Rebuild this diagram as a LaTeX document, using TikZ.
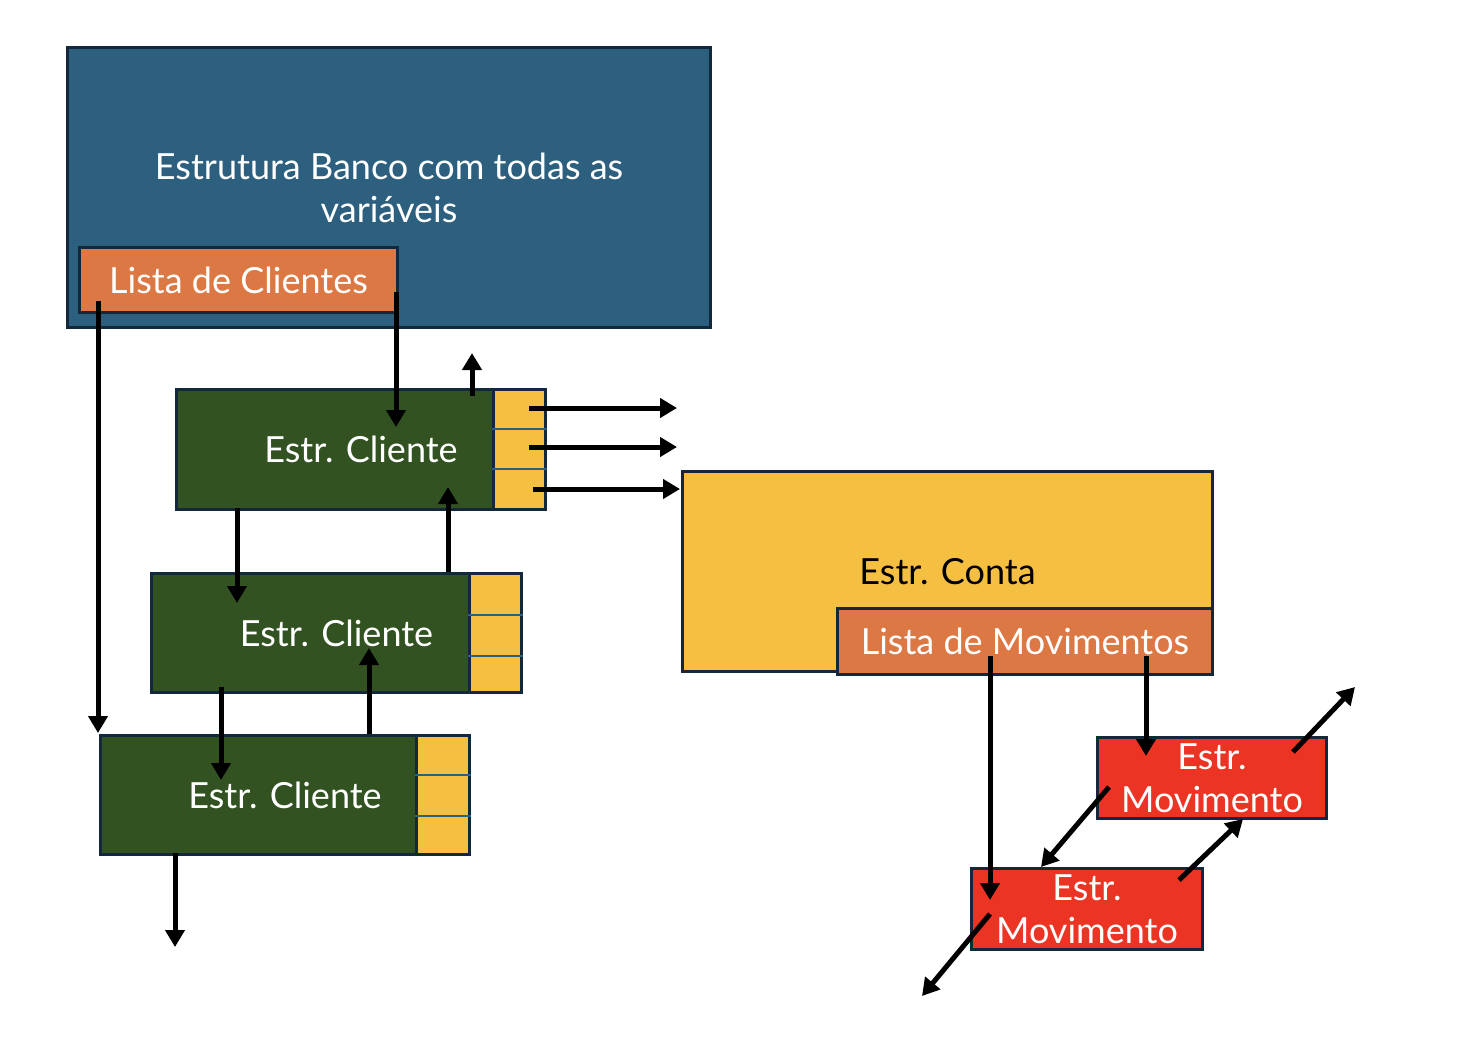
\documentclass[tikz,border=0pt]{standalone}
\usepackage{fontspec}
\setmainfont{Lato}
\usetikzlibrary{arrows.meta}
\definecolor{bankblue}{RGB}{45,95,127}
\definecolor{edge}{RGB}{19,40,58}
\definecolor{listorange}{RGB}{220,120,67}
\definecolor{cligreen}{RGB}{51,82,34}
\definecolor{slotyellow}{RGB}{245,192,66}
\definecolor{movred}{RGB}{236,52,36}
\begin{document}
\begin{tikzpicture}[x=1pt,y=-1pt,
  box/.style={draw=edge, line width=3pt, anchor=north west, inner sep=0pt,
    align=center, font=\fontsize{36}{43}\selectfont, text=white},
  slotcol/.style={box, fill=slotyellow, minimum width=52pt},
  divider/.style={draw=bankblue, line width=2.5pt},
  arr/.style={line width=5pt, -{Triangle[length=17pt,width=19pt]}}]
\useasboundingbox (0,0) rectangle (1464,1036);
% Banco
\node[box, fill=bankblue, minimum width=643pt, minimum height=280pt] (banco) at (66,46)
  {Estrutura Banco com todas as\\variáveis};
\node[box, fill=listorange, minimum width=318pt, minimum height=65pt] (lc) at (78,246) {Lista de Clientes};
% Clientes
\node[box, fill=cligreen, minimum width=369pt, minimum height=120pt] (c1) at (175,388) {Estr. Cliente};
\node[slotcol, minimum height=120pt] (s1) at (492,388) {};
\draw[divider] (s1.west |- 0,429) -- (s1.east |- 0,429);
\draw[divider] (s1.west |- 0,469) -- (s1.east |- 0,469);
\node[box, fill=cligreen, minimum width=370pt, minimum height=119pt] (c2) at (150,572) {Estr. Cliente};
\node[slotcol, minimum height=119pt] (s2) at (468,572) {};
\draw[divider] (s2.west |- 0,615) -- (s2.east |- 0,615);
\draw[divider] (s2.west |- 0,656) -- (s2.east |- 0,656);
\node[box, fill=cligreen, minimum width=369pt, minimum height=119pt] (c3) at (99,734) {Estr. Cliente};
\node[slotcol, minimum width=53pt, minimum height=119pt] (s3) at (415,734) {};
\draw[divider] (s3.west |- 0,775) -- (s3.east |- 0,775);
\draw[divider] (s3.west |- 0,816) -- (s3.east |- 0,816);
% Conta
\node[box, fill=slotyellow, text=black, minimum width=530pt, minimum height=200pt] (conta) at (681,470) {Estr. Conta};
\node[box, fill=listorange, minimum width=375pt, minimum height=66pt] (lm) at (836,607) {Lista de Movimentos};
% Movimentos
\node[box, fill=movred, minimum width=229pt, minimum height=81pt] (m1) at (1096,736) {Estr.\\Movimento};
\node[box, fill=movred, minimum width=231pt, minimum height=81pt] (m2) at (970,867) {Estr.\\Movimento};
% arrow coordinates
\coordinate (a1s) at (98,301);   \coordinate (a1e) at (98,733);
\coordinate (a2s) at (396,292);  \coordinate (a2e) at (396,427);
\coordinate (a3s) at (472,396);  \coordinate (a3e) at (472,353);
\coordinate (a4s) at (529,408);  \coordinate (a4e) at (677,408);
\coordinate (a5s) at (529,447);  \coordinate (a5e) at (677,447);
\coordinate (a6s) at (533,489);  \coordinate (a6e) at (680,489);
\coordinate (a7s) at (237,508);  \coordinate (a7e) at (237,603);
\coordinate (a8s) at (448,572);  \coordinate (a8e) at (448,487);
\coordinate (a9s) at (221,687);  \coordinate (a9e) at (221,780);
\coordinate (a10s) at (369,734); \coordinate (a10e) at (369,648);
\coordinate (a11s) at (175,853); \coordinate (a11e) at (175,947);
\coordinate (a12s) at (990,656); \coordinate (a12e) at (990,900);
\coordinate (a13s) at (1146,656); \coordinate (a13e) at (1146,756);
\coordinate (a14s) at (1293,752); \coordinate (a14e) at (1355,687);
\coordinate (a15s) at (1109,787); \coordinate (a15e) at (1041,867);
\coordinate (a16s) at (1179,880); \coordinate (a16e) at (1243,819);
\coordinate (a17s) at (990,914); \coordinate (a17e) at (922,996);
\foreach \i in {1,...,17} {\draw[arr] (a\i s) -- (a\i e);}
\end{tikzpicture}
\end{document}
